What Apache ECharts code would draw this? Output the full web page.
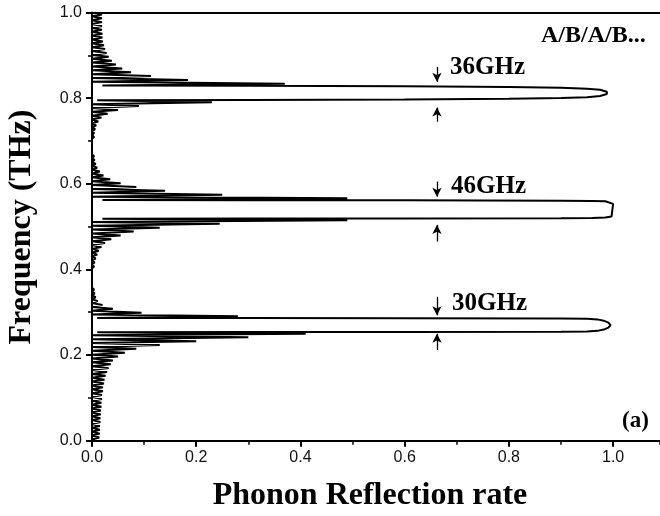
<!DOCTYPE html>
<html>
<head>
<meta charset="utf-8">
<script src="https://cdn.jsdelivr.net/npm/echarts@6/dist/echarts.min.js"></script>
<style>
html,body{margin:0;padding:0;background:#fff;}
#chart{width:660px;height:516px;}
</style>
</head>
<body>
<div id="chart"></div>
<script>
// [frequency (THz), reflection rate] pairs
const belowBand1 = [
[0.0000,0.005],[0.0030,0],[0.0075,0.014],[0.0120,0],[0.0165,0.015],[0.0210,0],[0.0255,0.015],[0.0300,0],
[0.0345,0.015],[0.0390,0],[0.0435,0.016],[0.0480,0],[0.0525,0.016],[0.0570,0],[0.0615,0.017],[0.0660,0],
[0.0705,0.017],[0.0750,0],[0.0795,0.018],[0.0840,0],[0.0885,0.018],[0.0930,0],[0.0975,0.019],[0.1020,0],
[0.1065,0.019],[0.1110,0],[0.1155,0.021],[0.1200,0],[0.1245,0.021],[0.1290,0],[0.1335,0.023],[0.1380,0],
[0.1425,0.024],[0.1470,0],[0.1515,0.026],[0.1560,0],[0.1605,0.029],[0.1650,0],[0.1695,0.032],[0.1740,0],
[0.1785,0.036],[0.1830,0],[0.1875,0.040],[0.1920,0],[0.1965,0.050],[0.2010,0],[0.2055,0.063],[0.2100,0],
[0.2145,0.085],[0.2190,0],[0.2235,0.130],[0.2280,0],[0.2325,0.200],[0.2370,0],[0.2415,0.300],[0.2460,0],
[0.2495,0.410],[0.2530,0.010]
];
const band1 = [
[0.2537,0.30],[0.2541,0.60],[0.2546,0.90],[0.2550,0.95],[0.2565,0.970],[0.2595,0.982],[0.2640,0.991],
[0.2699,0.995],[0.2759,0.991],[0.2803,0.982],[0.2833,0.970],[0.2848,0.95],[0.2853,0.90],[0.2860,0.60],
[0.2864,0.30],[0.2868,0.01]
];
const betweenBand1And2 = [
[0.2905,0.28],[0.2945,0],[0.2990,0.095],[0.3035,0],[0.3080,0.040],[0.3125,0],[0.3170,0.020],[0.3215,0],
[0.3260,0.011],[0.3305,0],[0.3350,0.007],[0.3395,0],[0.3440,0.005],[0.3485,0],[0.3530,0.004],[0.3575,0],
[0.3620,0.003],[0.3665,0],[0.3710,0.003],[0.3755,0],[0.3800,0.003],[0.3845,0],[0.3890,0.003],[0.3935,0],
[0.3980,0.003],[0.4025,0],[0.4070,0.004],[0.4115,0],[0.4160,0.005],[0.4210,0],[0.4255,0.007],[0.4300,0],
[0.4345,0.010],[0.4390,0],[0.4435,0.013],[0.4480,0],[0.4525,0.018],[0.4570,0],[0.4615,0.025],[0.4660,0],
[0.4705,0.037],[0.4750,0],[0.4795,0.055],[0.4840,0],[0.4885,0.080],[0.4930,0],[0.4975,0.130],[0.5020,0],
[0.5065,0.245],[0.5110,0],[0.5150,0.490],[0.5185,0.02]
];
const band2 = [
[0.5187,0.30],[0.5190,0.60],[0.5196,0.90],[0.5200,0.96],[0.5210,0.985],[0.5235,0.997],[0.5270,1.0],
[0.5530,1.0],[0.5565,0.997],[0.5592,0.985],[0.5600,0.96],[0.5604,0.90],[0.5613,0.60],[0.5617,0.30],[0.5622,0.02]
];
const betweenBand2And3 = [
[0.5660,0.49],[0.5700,0],[0.5745,0.25],[0.5790,0],[0.5835,0.14],[0.5880,0],[0.5925,0.085],[0.5970,0],
[0.6015,0.055],[0.6060,0],[0.6105,0.035],[0.6150,0],[0.6195,0.022],[0.6240,0],[0.6285,0.015],[0.6330,0],
[0.6375,0.010],[0.6420,0],[0.6465,0.007],[0.6510,0],[0.6555,0.005],[0.6600,0],[0.6645,0.004],[0.6690,0],
[0.6735,0.003],[0.6780,0],[0.6825,0.003],[0.6870,0],[0.6915,0.003],[0.6960,0],[0.7005,0.003],[0.7050,0],
[0.7095,0.004],[0.7140,0],[0.7185,0.004],[0.7230,0],[0.7275,0.006],[0.7320,0],[0.7365,0.008],[0.7410,0],
[0.7455,0.012],[0.7500,0],[0.7545,0.018],[0.7590,0],[0.7635,0.030],[0.7680,0],[0.7725,0.050],[0.7770,0],
[0.7815,0.090],[0.7860,0],[0.7905,0.230],[0.7948,0.01]
];
const band3 = [
[0.7956,0.30],[0.7966,0.60],[0.7988,0.80],[0.8003,0.90],[0.8020,0.95],[0.8050,0.975],[0.8095,0.988],
[0.8120,0.990],[0.8150,0.988],[0.8195,0.975],[0.8220,0.95],[0.8245,0.90],[0.8262,0.80],[0.8280,0.60],
[0.8290,0.30],[0.8297,0.02]
];
const aboveBand3 = [
[0.8335,0.37],[0.8380,0],[0.8425,0.184],[0.8470,0],[0.8515,0.113],[0.8560,0],[0.8605,0.075],[0.8650,0],
[0.8695,0.058],[0.8740,0],[0.8785,0.046],[0.8830,0],[0.8875,0.038],[0.8920,0],[0.8965,0.032],[0.9010,0],
[0.9055,0.028],[0.9100,0],[0.9145,0.025],[0.9190,0],[0.9235,0.023],[0.9280,0],[0.9325,0.021],[0.9370,0],
[0.9415,0.020],[0.9460,0],[0.9505,0.020],[0.9550,0],[0.9595,0.019],[0.9640,0],[0.9685,0.019],[0.9730,0],
[0.9775,0.019],[0.9820,0],[0.9865,0.019],[0.9910,0],[0.9955,0.019],[1.0000,0.005]
];
// annotation arrows: [reflection x, from freq, to freq]
const arrowMarks = [
[0.662,0.873,0.838],[0.662,0.745,0.778],
[0.662,0.605,0.570],[0.662,0.465,0.504],
[0.662,0.336,0.293],[0.662,0.212,0.250]
];
const bandLabels = ['36GHz','46GHz','30GHz'];
const yTicks = ['0.0','0.2','0.4','0.6','0.8','1.0'];
const xTicks = ['0.0','0.2','0.4','0.6','0.8','1.0'];

const spectrum = [].concat(belowBand1, band1, betweenBand1And2, band2, betweenBand2And3, band3, aboveBand3)
  .map(p => [p[1], p[0]]);

const chart = echarts.init(document.getElementById('chart'), null, {renderer:'canvas'});
const serif = '"Liberation Serif","Times New Roman",serif';
const sans = '"Liberation Sans",Arial,sans-serif';
function txt(text, x, y, size, align){
  align = align || 'left';
  return {
    type:'text', x:x, y:y, silent:true,
    style:{text:text, font:'bold '+size+'px '+serif, fill:'#000',
      textAlign:align, textVerticalAlign:'middle', align:align, verticalAlign:'middle'}
  };
}
const XMAX = 1.09;
const option = {
  animation:false,
  backgroundColor:'#fff',
  grid:{left:92, top:12.5, right:0, height:428.2, containLabel:false},
  xAxis:[{
    type:'value', min:0, max:XMAX, interval:0.2, position:'bottom',
    axisLine:{show:true, onZero:false, lineStyle:{color:'#000', width:2}},
    axisTick:{show:true, length:6, inside:false, lineStyle:{color:'#000', width:2}},
    splitLine:{show:false},
    axisLabel:{color:'#111', fontSize:16, fontFamily:sans, margin:9,
      formatter:v => { const i = Math.round(v/0.2); return Math.abs(v - i*0.2) < 1e-6 ? xTicks[i] : ''; },
      showMaxLabel:false}
  },{
    type:'value', min:0, max:XMAX, interval:0.1, position:'bottom',
    axisLine:{show:false}, axisLabel:{show:false}, splitLine:{show:false},
    axisTick:{show:true, length:4, inside:false, lineStyle:{color:'#000', width:1.5}}
  },{
    type:'value', min:0, max:XMAX, position:'top',
    axisLine:{show:true, onZero:false, lineStyle:{color:'#000', width:2}},
    axisTick:{show:false}, axisLabel:{show:false}, splitLine:{show:false}
  }],
  yAxis:{
    type:'value', min:0, max:1.0, interval:0.2,
    axisLine:{show:true, onZero:false, lineStyle:{color:'#000', width:2}},
    axisTick:{show:true, length:6, inside:false, lineStyle:{color:'#000', width:2}},
    minorTick:{show:true, splitNumber:2, length:4, lineStyle:{color:'#000', width:1.5}},
    splitLine:{show:false},
    axisLabel:{color:'#111', fontSize:16, fontFamily:sans, margin:10,
      formatter:v => yTicks[Math.round(v/0.2)]}
  },
  series:[{
    type:'line', xAxisIndex:0, yAxisIndex:0,
    data:spectrum, showSymbol:false, symbol:'none', smooth:false,
    lineStyle:{color:'#000', width:2},
    markLine:{
      silent:true, animation:false, symbol:['none','arrow'], symbolSize:[7,9],
      lineStyle:{color:'#000', width:1.3, type:'solid'},
      label:{show:false},
      data:arrowMarks.map(a => [{coord:[a[0],a[1]]},{coord:[a[0],a[2]]}])
    }
  }],
  graphic:[
    txt('A/B/A/B...', 541, 36, 24),
    txt(bandLabels[0], 450, 68, 25),
    txt(bandLabels[1], 451, 187, 25),
    txt(bandLabels[2], 452, 304, 25),
    txt('(a)', 622, 421, 23),
    txt('Phonon Reflection rate', 370, 496, 32, 'center'),
    {type:'text', x:22, y:227, rotation:Math.PI/2, silent:true,
      style:{text:'Frequency (THz)', font:'bold 32px '+serif, fill:'#000',
        textAlign:'center', textVerticalAlign:'middle', align:'center', verticalAlign:'middle'}}
  ]
};
chart.setOption(option);
</script>
</body>
</html>
